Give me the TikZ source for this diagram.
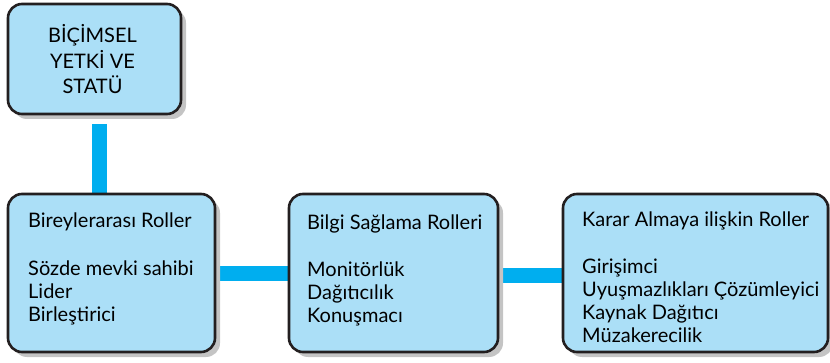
\documentclass[tikz,border=0pt]{standalone}
\usepackage{fontspec}
\setmainfont{Lato}
\usetikzlibrary{shadows}
\definecolor{boxblue}{HTML}{ABDFF7}
\definecolor{linkblue}{HTML}{00AEEF}
\definecolor{edge}{HTML}{231F20}
\definecolor{shade}{HTML}{C4C4C4}
\tikzset{
  box/.style={draw=edge, line width=2.6pt, fill=boxblue, rounded corners=14pt,
    drop shadow={shadow xshift=5pt, shadow yshift=-5pt, fill=shade, opacity=1},
    inner sep=0pt},
  link/.style={draw=linkblue, line width=15pt},
  txt/.style={anchor=base west, inner sep=0pt, font=\fontsize{20}{23}\selectfont},
}
\newcommand{\lines}[1]{\begin{tabular}[t]{@{}l@{}}#1\end{tabular}}
\newcommand{\clines}[1]{\begin{tabular}[t]{@{}c@{}}#1\end{tabular}}
\begin{document}
\begin{tikzpicture}[x=1pt,y=-1pt]
\useasboundingbox (0,0) rectangle (830,363);
% connectors first (behind)
\coordinate (vtop) at (99,124);
\coordinate (vbot) at (99,200);
\coordinate (l1a) at (210,274);
\coordinate (l1b) at (295,274);
\coordinate (l2a) at (495,276);
\coordinate (l2b) at (568,276);
\draw[link] (vtop) -- (vbot);
\draw[link] (l1a) -- (l1b);
\draw[link] (l2a) -- (l2b);
% boxes
\node[box, minimum width=173pt, minimum height=110pt] (top) at (94.5,59) {};
\node[box, minimum width=207pt, minimum height=158pt] (b1) at (111.5,273) {};
\node[box, minimum width=209pt, minimum height=158pt] (b2) at (393.5,273) {};
\node[box, minimum width=265pt, minimum height=158pt] (b3) at (695.5,273) {};
% texts
\node[anchor=base, inner sep=0pt, font=\fontsize{20}{24}\selectfont] (tt) at (92.5,43) {\clines{BİÇİMSEL\\YETKİ VE\\STATÜ}};
\node[txt] (t1) at (28,228) {\lines{Bireylerarası Roller\\[25pt]Sözde mevki sahibi\\Lider\\Birleştirici}};
\node[txt] (t2) at (307,230) {\lines{Bilgi Sağlama Rolleri\\[24pt]Monitörlük\\Dağıtıcılık\\Konuşmacı}};
\node[txt] (t3) at (582,227) {\lines{Karar Almaya ilişkin Roller\\[24pt]Girişimci\\Uyuşmazlıkları Çözümleyici\\Kaynak Dağıtıcı\\Müzakerecilik}};
\end{tikzpicture}
\end{document}
